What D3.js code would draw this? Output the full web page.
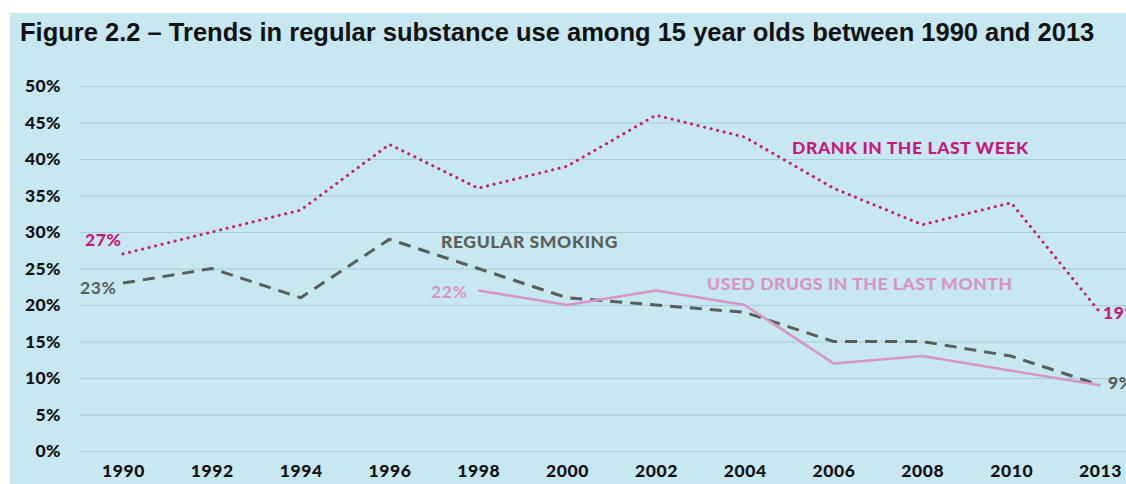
<!DOCTYPE html>
<html>
<head>
<meta charset="utf-8">
<script src="https://cdn.jsdelivr.net/npm/d3@7"></script>
<style>
  body { margin: 0; background: #fff; }
  svg { display: block; }
</style>
</head>
<body>
<div id="chart"></div>
<script>
// Données
const years = ["1990", "1992", "1994", "1996", "1998", "2000", "2002", "2004", "2006", "2008", "2010", "2013"];
const drank = [27, 30, 33, 42, 36, 39, 46, 43, 36, 31, 34, 19];
const smoking = [23, 25, 21, 29, 25, 21, 20, 19, 15, 15, 13, 9];
const drugs = [null, null, null, null, 22, 20, 22, 20, 12, 13, 11, 9];
const yTicks = [0, 5, 10, 15, 20, 25, 30, 35, 40, 45, 50];

const width = 1126;
const height = 484;

const svg = d3.select("#chart")
    .append("svg")
    .attr("width", width)
    .attr("height", height);

// Fond
svg.append("rect")
    .attr("x", 10)
    .attr("y", 13)
    .attr("width", width - 10)
    .attr("height", height - 13)
    .attr("fill", "#c7e7f1");

// Titre
svg.append("text")
    .attr("x", 20)
    .attr("y", 41)
    .attr("font-family", "Liberation Sans, Arial, sans-serif")
    .attr("font-size", "25.5px")
    .attr("font-weight", "bold")
    .attr("fill", "#111")
    .text("Figure 2.2 – Trends in regular substance use among 15 year olds between 1990 and 2013");

// Echelles
const scaleX = d3.scalePoint()
    .domain(years)
    .range([123, 1100]);

const scaleY = d3.scaleLinear()
    .domain([0, 50])
    .range([451, 86]);

const font = "Lato, 'DejaVu Sans', sans-serif";

// Grille + axe Y
svg.append("g")
    .attr("transform", "translate(80, 0)")
    .call(d3.axisLeft(scaleY).tickValues(yTicks).tickSize(0).tickPadding(19).tickFormat(d => d + "%"))
    .call(g => g.select(".domain").remove())
    .call(g => g.selectAll(".tick text")
        .attr("font-family", font)
        .attr("font-size", "17.5px")
        .attr("font-weight", 900)
        .attr("letter-spacing", "0.4px")
        .attr("fill", "#111"))
    .call(g => g.selectAll(".tick line").clone()
        .attr("x2", width - 80)
        .attr("stroke", "#a6cdd8")
        .attr("stroke-width", 1));

// Axe X
svg.append("g")
    .attr("transform", "translate(0, 462)")
    .call(d3.axisBottom(scaleX).tickSize(0).tickPadding(3))
    .call(g => g.select(".domain").remove())
    .call(g => g.selectAll(".tick text")
        .attr("font-family", font)
        .attr("font-size", "17.5px")
        .attr("font-weight", 900)
        .attr("letter-spacing", "0.6px")
        .attr("fill", "#111"));

// Lignes
const line = d3.line()
    .defined(d => d.v != null)
    .x(d => scaleX(d.year))
    .y(d => scaleY(d.v));

const series = [
    { "name": "drank", "values": drank, "col": "#c6197b", "w": 3, "dash": "0.1 6.6", "cap": "round" },
    { "name": "smoking", "values": smoking, "col": "#595e59", "w": 3, "dash": "12 8", "cap": "butt" },
    { "name": "drugs", "values": drugs, "col": "#d895c3", "w": 2.5, "dash": null, "cap": "butt" }
];

series.forEach(s => {
    svg.append("path")
        .datum(years.map((y, i) => ({ year: y, v: s.values[i] })))
        .attr("fill", "none")
        .attr("stroke", s.col)
        .attr("stroke-width", s.w)
        .attr("stroke-dasharray", s.dash)
        .attr("stroke-linecap", s.cap)
        .attr("stroke-linejoin", "round")
        .attr("d", line);
});

// Etiquettes
const labels = [
    { "text": "27%", "x": 85, "y": 246, "col": "#c6197b", "w": 900 },
    { "text": "23%", "x": 80, "y": 294, "col": "#595e59", "w": 700 },
    { "text": "22%", "x": 431, "y": 298, "col": "#d895c3", "w": 700 },
    { "text": "19%", "x": 1103, "y": 319, "col": "#c6197b", "w": 900 },
    { "text": "9%", "x": 1108, "y": 389, "col": "#595e59", "w": 900 },
    { "text": "DRANK IN THE LAST WEEK", "x": 792, "y": 154, "col": "#c6197b", "w": 900 },
    { "text": "REGULAR SMOKING", "x": 441, "y": 248, "col": "#595e59", "w": 900 },
    { "text": "USED DRUGS IN THE LAST MONTH", "x": 707, "y": 290, "col": "#d895c3", "w": 900 }
];

svg.selectAll(".lab")
    .data(labels)
    .join("text")
    .attr("class", "lab")
    .attr("x", d => d.x)
    .attr("y", d => d.y)
    .attr("font-family", font)
    .attr("font-size", "17.5px")
    .attr("font-weight", d => d.w)
    .attr("letter-spacing", "0.6px")
    .attr("fill", d => d.col)
    .text(d => d.text);
</script>
</body>
</html>
